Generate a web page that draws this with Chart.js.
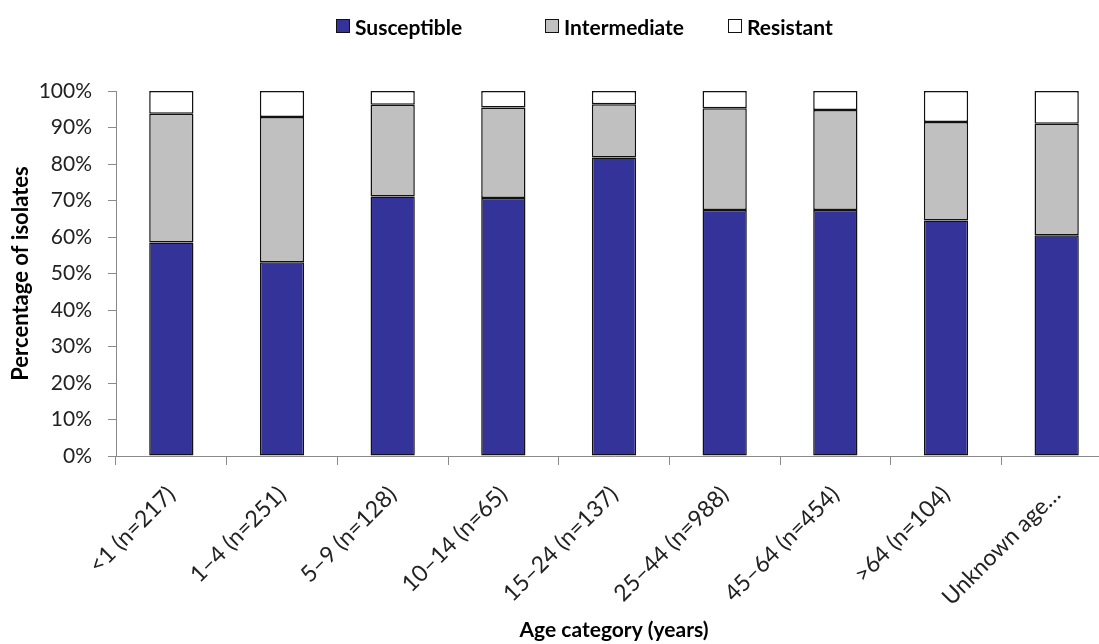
<!DOCTYPE html>
<html>
<head>
<meta charset="utf-8">
<script src="https://cdn.jsdelivr.net/npm/chart.js@4.4.1/dist/chart.umd.min.js"></script>
<style>
  html, body { margin: 0; padding: 0; background: #fff; overflow: hidden; width: 1099px; height: 644px; }
  #wrap { position: relative; width: 1112px; height: 644px; }
  #chart { display: block; }
  #legend { position: absolute; left: 0; top: 0; width: 1099px; height: 52px;
            font-family: Lato, "Open Sans", sans-serif; font-weight: bold; font-size: 21px; color: #000; }
  .item { position: absolute; top: 14px; height: 24px; display: flex; align-items: center; white-space: nowrap; }
  .item:nth-child(1) { left: 336px; }
  .item:nth-child(2) { left: 545px; }
  .item:nth-child(3) { left: 728px; }
  .box { width: 12px; height: 12px; border: 1px solid #111; margin-right: 5px; }
</style>
</head>
<body>
<div id="wrap">
  <div id="legend"></div>
  <canvas id="chart" width="1112" height="644"></canvas>
</div>
<script>
// Age groups with number of isolates tested
const categories = ['<1 (n=217)', '1–4 (n=251)', '5–9 (n=128)', '10–14 (n=65)', '15–24 (n=137)',
                    '25–44 (n=988)', '45–64 (n=454)', '>64 (n=104)', 'Unknown age…'];

// Share of isolates per susceptibility class (%)
const susceptible  = [58.5, 53.1, 71.1, 70.7, 81.8, 67.4, 67.4, 64.5, 60.5];
const intermediate = [35.3, 39.8, 25.1, 24.8, 14.6, 27.9, 27.4, 27.0, 30.5];
const resistant    = [6.2, 7.1, 3.8, 4.5, 3.6, 4.7, 5.2, 8.5, 9.0];

const seriesNames = ['Susceptible', 'Intermediate', 'Resistant'];
const yTicks = [0, 10, 20, 30, 40, 50, 60, 70, 80, 90, 100];

const fillColors = ['#333399', '#C0C0C0', '#FFFFFF'];
const FONT = 'Lato, "Open Sans", sans-serif';

const ctx = document.getElementById('chart').getContext('2d');
const chart = new Chart(ctx, {
  type: 'bar',
  data: {
    labels: categories,
    datasets: [susceptible, intermediate, resistant].map((values, i) => ({
      label: seriesNames[i],
      data: values,
      backgroundColor: fillColors[i],
      borderColor: '#111111',
      borderWidth: 1.5,
      borderSkipped: false,
      categoryPercentage: 0.8,
      barPercentage: 0.5
    }))
  },
  options: {
    responsive: false,
    animation: false,
    layout: { padding: { top: 91, left: 0, right: 0, bottom: 0 } },
    plugins: {
      legend: { display: false },
      tooltip: { enabled: false }
    },
    scales: {
      x: {
        stacked: true,
        grid: { display: true, drawOnChartArea: false, drawTicks: true, tickLength: 9, color: '#8a8a8a', offset: true },
        border: { display: true, color: '#8a8a8a', width: 1 },
        ticks: {
          autoSkip: false, minRotation: 45, maxRotation: 45, padding: 16,
          color: '#222', font: { family: FONT, size: 23 }
        },
        title: {
          display: true, text: 'Age category (years)', color: '#000',
          font: { family: FONT, size: 21, weight: 'bold' }, padding: { top: 0, bottom: 1 }
        },
        afterFit: (scale) => { scale.height = 188; }
      },
      y: {
        stacked: true,
        min: 0, max: 100,
        afterBuildTicks: (scale) => { scale.ticks = yTicks.map(v => ({ value: v })); },
        grid: { display: true, drawOnChartArea: false, drawTicks: true, tickLength: 8, color: '#8a8a8a' },
        border: { display: true, color: '#8a8a8a', width: 1 },
        ticks: {
          padding: 16, color: '#222', font: { family: FONT, size: 21 },
          callback: (v) => v + '%'
        },
        title: {
          display: true, text: 'Percentage of isolates', color: '#000',
          font: { family: FONT, size: 22, weight: 'bold' }, padding: { top: 8, bottom: 0 }
        },
        afterFit: (scale) => { scale.width = 116; }
      }
    }
  }
});

// Legend built from the chart's own datasets
const legendEl = document.getElementById('legend');
chart.data.datasets.forEach(ds => {
  const item = document.createElement('div');
  item.className = 'item';
  const box = document.createElement('span');
  box.className = 'box';
  box.style.background = ds.backgroundColor;
  const txt = document.createElement('span');
  txt.textContent = ds.label;
  item.appendChild(box);
  item.appendChild(txt);
  legendEl.appendChild(item);
});
</script>
</body>
</html>
